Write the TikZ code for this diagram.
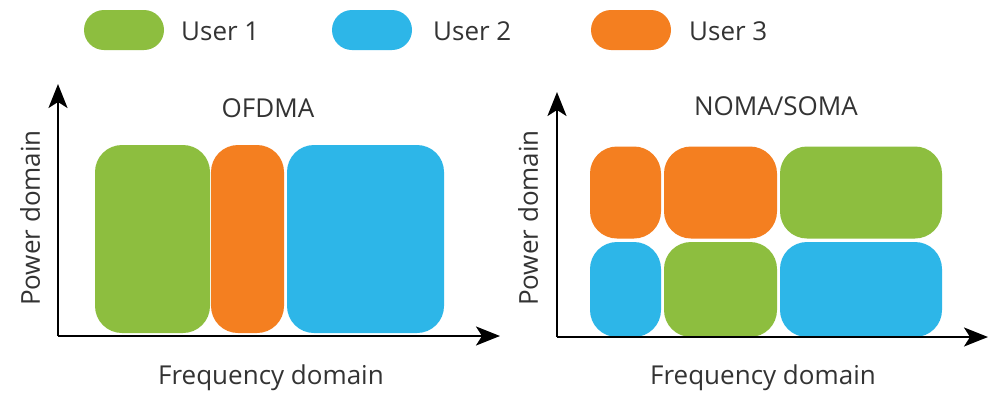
\documentclass[tikz,border=0pt]{standalone}
\usepackage{fontspec}
\setmainfont{Open Sans}
\usetikzlibrary{arrows.meta}
\definecolor{ugreen}{HTML}{8DBE3F}
\definecolor{uorange}{HTML}{F47F20}
\definecolor{ublue}{HTML}{2DB6E8}
\definecolor{txt}{HTML}{333333}
\tikzset{
  blk/.style={rounded corners=27pt, inner sep=0pt, draw=none},
  pill/.style={rounded corners=20pt, inner sep=0pt, minimum width=80pt, minimum height=40pt, draw=none},
  lbl/.style={text=txt, font=\fontsize{26}{30}\selectfont, inner sep=0pt},
  axis/.style={line width=2.2pt, -{Stealth[length=24pt,width=19pt,inset=6pt]}},
}
\begin{document}
\begin{tikzpicture}[x=1pt,y=-1pt]
\useasboundingbox[fill=white] (0,0) rectangle (990,394);
% legend
\node[pill, fill=ugreen] (p1) at (124,30) {};
\node[lbl, anchor=west] (l1) at (181,31) {User 1};
\node[pill, fill=ublue] (p2) at (372,30) {};
\node[lbl, anchor=west] (l2) at (433,31) {User 2};
\node[pill, fill=uorange] (p3) at (631,30) {};
\node[lbl, anchor=west] (l3) at (689,31) {User 3};
% left chart
\node[blk, fill=ugreen, minimum width=115pt, minimum height=188pt] (a1) at (152.5,239) {};
\node[blk, fill=uorange, minimum width=73pt, minimum height=188pt] (a2) at (247.5,239) {};
\node[blk, fill=ublue, minimum width=157pt, minimum height=188pt] (a3) at (365.5,239) {};
\coordinate (o1) at (58,336);
\coordinate (y1) at (58,84);
\coordinate (x1) at (500,336);
\draw[axis] (o1) -- (y1);
\draw[axis] (o1) -- (x1);
\node[lbl] (t1) at (268,108) {OFDMA};
\node[lbl, rotate=90] (py1) at (30,218) {Power domain};
\node[lbl] (fx1) at (271,378) {Frequency domain};
% right chart
\node[blk, fill=uorange, minimum width=71pt, minimum height=92pt] (b1) at (625.5,192.5) {};
\node[blk, fill=uorange, minimum width=113pt, minimum height=92pt] (b2) at (720.5,192.5) {};
\node[blk, fill=ugreen, minimum width=162pt, minimum height=92pt] (b3) at (861,192.5) {};
\node[blk, fill=ublue, minimum width=71pt, minimum height=95pt] (c1) at (625.5,289.5) {};
\node[blk, fill=ugreen, minimum width=113pt, minimum height=95pt] (c2) at (720.5,289.5) {};
\node[blk, fill=ublue, minimum width=162pt, minimum height=95pt] (c3) at (861,289.5) {};
\coordinate (o2) at (557,337);
\coordinate (y2) at (557,92);
\coordinate (x2) at (988,337);
\draw[axis] (o2) -- (y2);
\draw[axis] (o2) -- (x2);
\node[lbl] (t2) at (776,106) {NOMA/SOMA};
\node[lbl, rotate=90] (py2) at (528,218) {Power domain};
\node[lbl] (fx2) at (763,378) {Frequency domain};
\end{tikzpicture}
\end{document}
